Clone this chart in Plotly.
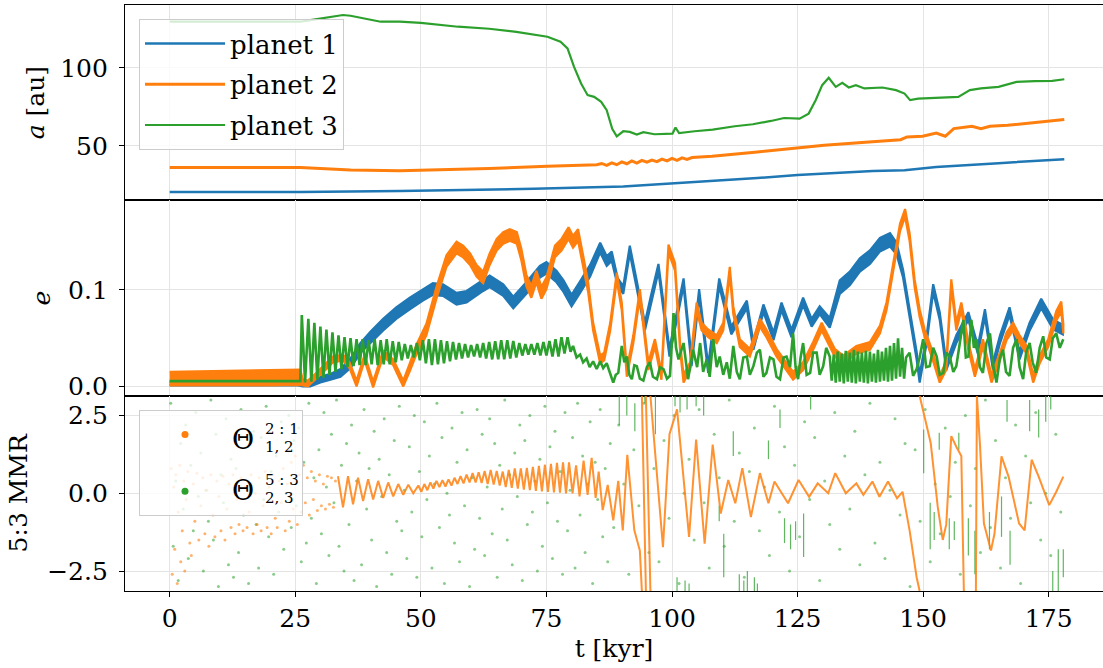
import plotly.graph_objects as go
from plotly.subplots import make_subplots

BLUE = '#1f77b4'
ORANGE = '#ff7f0e'
GREEN = '#2ca02c'
FONT = 'DejaVu Serif'

# ---------------- semi-major axis a [au] : (t [kyr], a) ----------------
A1 = [(0, 20.5), (26, 20.5), (45.8, 21.2), (60, 21.8), (72.5, 22.6), (90.3, 24.1), (100, 25.9),
      (110, 28.0), (117, 29.5), (125, 31.4), (134.8, 33.3), (140, 34.0), (146.3, 34.4),
      (152.6, 36.5), (165, 39.0), (178.1, 41.5)]
A2 = [(0, 36.2), (26, 36.2), (30, 35.5), (36, 34.6), (45.8, 34.2), (55, 34.8), (63.6, 35.5),
      (75.2, 37.0), (80, 37.5), (85, 38.0), (86, 38.8), (87, 37.6), (88, 39.2), (89, 38.0),
      (90, 39.8), (91, 38.6), (92, 40.4), (93, 39.0), (94, 40.8), (95, 39.6), (96, 41.0),
      (97, 40.0), (98, 41.6), (99, 40.4), (100, 42.0), (101, 40.8), (102, 42.4), (103, 41.4),
      (104, 42.6), (108, 43.4), (117, 46.2), (125, 48.7), (130.3, 50.4), (139.2, 52.6),
      (145.5, 54.0), (146.8, 55.8), (149.9, 56.2), (152.6, 58.3), (154.4, 56.2), (156.1, 61.1),
      (159.7, 62.6), (161.5, 61.1), (163.3, 62.6), (166.8, 63.2), (170.4, 64.3), (173.9, 65.4),
      (178.1, 66.9)]
A3 = [(0, 129.5), (10, 129.5), (20, 129.5), (26, 129.5), (28, 130.5), (30, 131.5), (32, 132.8),
      (34.5, 133.8), (36, 133.3), (38, 132.0), (40, 130.5), (42, 129.5), (45.8, 129.5),
      (50, 128.8), (57.4, 126.3), (63.6, 125.0), (69, 123.0), (75.2, 119.9), (77.8, 116.7),
      (79.2, 112.4), (80.5, 100.6), (81.9, 90.0), (83.2, 82.5), (84.5, 81.4), (85.9, 78.2),
      (87.0, 72.9), (88.1, 61.0), (89.0, 56.2), (90.3, 59.4), (91.6, 59.0), (93.0, 57.3),
      (94.3, 58.8), (96.5, 57.5), (100.1, 57.9), (100.7, 61.8), (101.4, 58.3), (104.5, 59.4),
      (108.1, 60.5), (112.5, 62.6), (116.1, 63.9), (119.7, 66.0), (122.3, 67.9), (125.4, 67.5),
      (127.2, 70.7), (128.6, 79.3), (129.9, 88.9), (131.2, 93.6), (132.6, 87.8), (133.9, 90.4),
      (135.2, 87.4), (136.6, 88.9), (138.3, 86.8), (141.9, 87.4), (144.6, 85.7), (146.3, 83.5),
      (147.4, 79.3), (149.0, 80.3), (152.6, 80.8), (157.0, 81.4), (159.3, 85.7), (161.5, 86.8),
      (165.0, 87.8), (168.6, 91.0), (172.2, 91.5), (175.7, 91.7), (178.1, 92.7)]

# ---------------- eccentricity e : (t, centre, half-width of fast oscillation) ----------------
E1 = [(0, 0.003, 0.002), (10, 0.003, 0.002), (20, 0.003, 0.002), (25.5, 0.003, 0.002),
      (26.5, 0.002, 0.002), (28, 0.003, 0.003), (30, 0.007, 0.003), (32, 0.010, 0.003),
      (34, 0.014, 0.004), (36, 0.024, 0.005), (38, 0.040, 0.005), (40, 0.051, 0.006),
      (42.5, 0.064, 0.006), (45.1, 0.076, 0.006), (47.8, 0.086, 0.006), (50.4, 0.095, 0.006),
      (52.4, 0.101, 0.006), (54.4, 0.100, 0.006), (57.1, 0.091, 0.006), (59.1, 0.093, 0.006),
      (62.4, 0.105, 0.006), (63.7, 0.109, 0.006), (66.4, 0.100, 0.006), (68.4, 0.087, 0.006),
      (71.0, 0.102, 0.006), (73.7, 0.119, 0.006), (75.0, 0.123, 0.006), (77.0, 0.114, 0.006),
      (78.4, 0.104, 0.006), (80.0, 0.089, 0.006), (81.7, 0.103, 0.006), (83.7, 0.120, 0.006),
      (85.7, 0.144, 0.005), (87.0, 0.130, 0.005), (88.0, 0.135, 0.005), (89.2, 0.108, 0.004),
      (90.3, 0.100, 0.004), (91.6, 0.142, 0.004), (93.0, 0.105, 0.004), (94.6, 0.062, 0.004),
      (95.8, 0.090, 0.004), (97.3, 0.123, 0.004), (99.5, 0.035, 0.004), (102.3, 0.108, 0.004),
      (103.9, 0.025, 0.004), (105.4, 0.097, 0.004), (107.2, 0.018, 0.004), (109.4, 0.108, 0.004),
      (111.8, 0.058, 0.004), (114.9, 0.085, 0.004), (116.2, 0.042, 0.004), (118.2, 0.081, 0.004),
      (120.2, 0.052, 0.004), (121.8, 0.083, 0.004), (123.8, 0.055, 0.004), (126.1, 0.088, 0.004),
      (127.8, 0.066, 0.004), (129.4, 0.079, 0.004), (131.4, 0.066, 0.005), (133.4, 0.103, 0.007),
      (135.4, 0.112, 0.007), (137.4, 0.126, 0.007), (139.4, 0.134, 0.007), (141.4, 0.147, 0.007),
      (143.4, 0.152, 0.007), (144.7, 0.143, 0.006), (146.0, 0.117, 0.004), (147.3, 0.076, 0.004),
      (148.7, 0.032, 0.004), (149.3, 0.008, 0.004), (150.7, 0.049, 0.004), (152.0, 0.102, 0.004),
      (153.3, 0.073, 0.004), (154.6, 0.021, 0.004), (156.6, 0.049, 0.004), (159.0, 0.073, 0.004),
      (160.9, 0.038, 0.004), (162.3, 0.076, 0.004), (163.9, 0.021, 0.004), (165.3, 0.049, 0.004),
      (167.2, 0.078, 0.004), (169.2, 0.032, 0.004), (171.2, 0.062, 0.004), (173.5, 0.086, 0.005),
      (175.9, 0.064, 0.005), (177.8, 0.059, 0.005)]
E2 = [(0, 0.008, 0.007), (10, 0.0085, 0.0075), (20, 0.009, 0.008), (26, 0.0095, 0.008),
      (26.5, 0.004, 0.003), (27.5, 0.003, 0.003), (29, 0.010, 0.003), (31, 0.020, 0.003),
      (32.5, 0.028, 0.003), (34.5, 0.030, 0.003), (35.8, 0.022, 0.003), (37.2, 0.003, 0.003),
      (38.8, 0.030, 0.003), (40.5, 0.002, 0.003), (42.5, 0.034, 0.003), (44.5, 0.025, 0.003),
      (46.5, 0.003, 0.003), (47.8, 0.020, 0.004), (49.1, 0.038, 0.005), (51.1, 0.059, 0.006),
      (53.1, 0.097, 0.006), (55.1, 0.130, 0.006), (57.1, 0.144, 0.006), (58.4, 0.140, 0.006),
      (59.8, 0.132, 0.006), (61.1, 0.120, 0.006), (62.4, 0.113, 0.006), (63.7, 0.132, 0.006),
      (65.1, 0.147, 0.006), (66.4, 0.154, 0.006), (67.7, 0.157, 0.006), (69.1, 0.154, 0.006),
      (70.0, 0.137, 0.006), (71.0, 0.110, 0.006), (72.0, 0.098, 0.006), (73.0, 0.114, 0.006),
      (74.0, 0.097, 0.006), (75.0, 0.107, 0.006), (76.7, 0.140, 0.006), (78.0, 0.147, 0.006),
      (79.4, 0.159, 0.006), (80.3, 0.150, 0.006), (81.3, 0.157, 0.006), (82.3, 0.131, 0.005),
      (83.3, 0.103, 0.005), (84.3, 0.062, 0.004), (85.7, 0.028, 0.004), (86.5, 0.031, 0.004),
      (87.7, 0.062, 0.004), (89.0, 0.114, 0.004), (90.0, 0.083, 0.004), (91.0, 0.014, 0.004),
      (92.3, 0.049, 0.004), (93.6, 0.097, 0.004), (95.3, 0.021, 0.004), (96.6, 0.045, 0.004),
      (97.9, 0.011, 0.004), (99.3, 0.143, 0.004), (100.6, 0.124, 0.004), (101.6, 0.042, 0.004),
      (102.3, 0.008, 0.004), (103.6, 0.021, 0.004), (104.9, 0.083, 0.004), (105.9, 0.062, 0.004),
      (107.2, 0.055, 0.004), (108.9, 0.049, 0.004), (110.2, 0.062, 0.004), (111.5, 0.120, 0.004),
      (112.2, 0.079, 0.004), (113.5, 0.045, 0.004), (115.5, 0.035, 0.004), (117.5, 0.066, 0.004),
      (118.8, 0.055, 0.004), (120.8, 0.035, 0.004), (122.1, 0.025, 0.004), (124.1, 0.011, 0.004),
      (126.1, 0.021, 0.004), (128.1, 0.042, 0.004), (129.8, 0.062, 0.004), (131.1, 0.049, 0.004),
      (132.4, 0.035, 0.004), (134.1, 0.028, 0.004), (136.7, 0.038, 0.004), (139.4, 0.042, 0.004),
      (141.4, 0.059, 0.004), (142.7, 0.083, 0.004), (144.0, 0.124, 0.004), (145.4, 0.165, 0.004),
      (146.4, 0.180, 0.004), (147.3, 0.155, 0.004), (148.3, 0.107, 0.004), (149.3, 0.076, 0.004),
      (150.3, 0.055, 0.004), (151.7, 0.035, 0.004), (153.3, 0.008, 0.004), (154.6, 0.021, 0.004),
      (155.6, 0.107, 0.004), (156.6, 0.062, 0.004), (157.6, 0.083, 0.004), (159.0, 0.042, 0.004),
      (160.3, 0.014, 0.004), (161.9, 0.045, 0.004), (163.6, 0.008, 0.004), (165.3, 0.031, 0.004),
      (166.6, 0.052, 0.004), (167.9, 0.062, 0.004), (169.2, 0.049, 0.004), (170.6, 0.038, 0.004),
      (171.9, 0.008, 0.004), (173.2, 0.028, 0.004), (174.9, 0.045, 0.004), (176.5, 0.073, 0.005),
      (177.5, 0.083, 0.005), (177.9, 0.060, 0.005)]
E3 = [(0, 0.0055), (26.0, 0.0055), (26.3, 0.074), (26.95, 0.004), (27.6, 0.070), (28.2, 0.005),
      (28.8, 0.066), (29.4, 0.007), (30.0, 0.062), (30.6, 0.009), (31.2, 0.059), (31.8, 0.012),
      (32.4, 0.056), (33.0, 0.015), (33.6, 0.053), (34.2, 0.018), (34.8, 0.051), (35.4, 0.020),
      (36.0, 0.050), (36.6, 0.021), (37.2, 0.049), (37.8, 0.022), (38.4, 0.049), (39.0, 0.022),
      (39.6, 0.048), (40.2, 0.023), (40.8, 0.049), (41.4, 0.022), (42.0, 0.048), (42.6, 0.023),
      (43.2, 0.049), (43.8, 0.023), (44.4, 0.047), (45.0, 0.025), (45.6, 0.046), (46.2, 0.027),
      (46.8, 0.044), (47.4, 0.029), (48.0, 0.043), (48.6, 0.030), (49.2, 0.045), (49.8, 0.027),
      (50.4, 0.048), (51.0, 0.024), (51.6, 0.049), (52.2, 0.022), (52.8, 0.049), (53.4, 0.023),
      (54.0, 0.048), (54.6, 0.024), (55.2, 0.047), (55.8, 0.026), (56.4, 0.046), (57.0, 0.028),
      (57.6, 0.045), (58.2, 0.029), (58.8, 0.044), (59.4, 0.030), (60.0, 0.043), (60.6, 0.031),
      (61.2, 0.044), (61.8, 0.030), (62.4, 0.045), (63.0, 0.029), (63.6, 0.046), (64.2, 0.028),
      (64.8, 0.047), (65.4, 0.028), (66.0, 0.048), (66.6, 0.028), (67.2, 0.048), (67.8, 0.029),
      (68.4, 0.047), (69.0, 0.030), (69.6, 0.045), (70.2, 0.032), (70.8, 0.044), (71.4, 0.033),
      (72.0, 0.044), (72.6, 0.033), (73.2, 0.045), (73.8, 0.032), (74.4, 0.046), (75.0, 0.032),
      (75.6, 0.047), (76.2, 0.031), (76.8, 0.049), (77.4, 0.031), (78.0, 0.051), (78.6, 0.034),
      (79.2, 0.051), (79.8, 0.036), (80.3, 0.042), (81.0, 0.030), (81.7, 0.033), (82.3, 0.025),
      (83.0, 0.029), (83.6, 0.020), (84.3, 0.026), (85.0, 0.018), (85.7, 0.026), (86.3, 0.019),
      (87.0, 0.024), (87.6, 0.015), (88.3, 0.004), (88.8, 0.012), (89.3, 0.014), (90.0, 0.042),
      (90.5, 0.025), (91.0, 0.031), (91.5, 0.012), (92.0, 0.0075), (92.5, 0.022), (93.0, 0.021),
      (93.6, 0.008), (94.3, 0.006), (95.0, 0.020), (95.6, 0.025), (96.2, 0.010), (97.0, 0.0075),
      (97.6, 0.020), (98.3, 0.018), (99.0, 0.008), (99.6, 0.011), (100.3, 0.076), (100.8, 0.040),
      (101.3, 0.028), (102.3, 0.045), (103.2, 0.0075), (104.2, 0.038), (105.0, 0.020),
      (105.6, 0.045), (106.2, 0.015), (106.9, 0.028), (107.5, 0.010), (108.2, 0.049),
      (108.9, 0.020), (109.5, 0.031), (110.2, 0.012), (110.9, 0.025), (111.5, 0.008),
      (112.2, 0.042), (112.9, 0.015), (113.5, 0.0075), (114.2, 0.030), (114.9, 0.031),
      (115.5, 0.012), (116.2, 0.021), (116.9, 0.035), (117.5, 0.038), (118.2, 0.010),
      (118.8, 0.014), (119.5, 0.030), (120.2, 0.028), (120.8, 0.010), (121.5, 0.0075),
      (122.2, 0.030), (122.8, 0.031), (123.5, 0.020), (124.1, 0.055), (124.6, 0.020),
      (125.1, 0.0075), (125.6, 0.030), (126.1, 0.045), (126.8, 0.012), (127.5, 0.014),
      (128.1, 0.035), (128.8, 0.035), (129.4, 0.012), (130.1, 0.021), (130.7, 0.040),
      (131.4, 0.031), (131.8, 0.006), (132.2, 0.033), (132.6, 0.004), (133.0, 0.036),
      (133.4, 0.005), (133.8, 0.034), (134.2, 0.003), (134.6, 0.037), (135.0, 0.005),
      (135.4, 0.035), (135.8, 0.004), (136.2, 0.038), (136.6, 0.003), (137.0, 0.036),
      (137.4, 0.005), (137.8, 0.035), (138.2, 0.004), (138.6, 0.037), (139.0, 0.003),
      (139.4, 0.036), (139.8, 0.005), (140.2, 0.034), (140.6, 0.004), (141.0, 0.038),
      (141.4, 0.005), (141.8, 0.036), (142.2, 0.006), (142.6, 0.040), (143.0, 0.005),
      (143.4, 0.042), (143.8, 0.006), (144.2, 0.045), (144.6, 0.008), (145.0, 0.050),
      (145.4, 0.010), (145.8, 0.040), (146.2, 0.008), (146.6, 0.030), (147.3, 0.035),
      (148.0, 0.011), (148.7, 0.018), (149.3, 0.030), (150.0, 0.049), (150.6, 0.020),
      (151.3, 0.021), (152.0, 0.040), (152.7, 0.031), (153.3, 0.012), (154.0, 0.014),
      (154.6, 0.035), (155.3, 0.031), (156.0, 0.015), (156.6, 0.021), (157.3, 0.045),
      (158.0, 0.069), (158.5, 0.030), (159.0, 0.031), (159.6, 0.069), (160.1, 0.040),
      (160.6, 0.049), (161.3, 0.020), (161.9, 0.014), (162.6, 0.045), (163.3, 0.055),
      (164.0, 0.020), (164.6, 0.004), (165.3, 0.030), (165.9, 0.038), (166.5, 0.015),
      (167.2, 0.011), (167.9, 0.040), (168.6, 0.049), (169.2, 0.020), (169.9, 0.0075),
      (170.5, 0.035), (171.2, 0.045), (171.8, 0.025), (172.5, 0.014), (173.2, 0.040),
      (173.9, 0.052), (174.5, 0.030), (175.2, 0.028), (175.8, 0.050), (176.5, 0.055),
      (177.2, 0.040), (177.9, 0.049)]

# ---------------- resonant angles ----------------
THETA12_CLOUD = [(0.3, 0.8), (0.5, -2.6), (0.8, 0.2), (1.0, -1.8), (1.2, 0.6), (1.5, -2.9), (1.7, -0.6),
                 (2.0, 0.9), (2.2, -2.2), (2.5, -1.2), (2.8, 0.4), (3.0, -2.5), (3.3, -0.2), (3.6, 0.7),
                 (4.0, -1.6), (4.3, -2.0), (4.7, 0.3), (5.0, -0.9), (5.4, 0.65), (5.8, -1.5), (6.2, -0.4),
                 (6.6, 0.5), (7.0, -1.3), (7.4, 0.1), (7.8, -1.7), (8.2, 0.6), (8.6, -0.7), (9.0, -1.4),
                 (9.4, 0.4), (9.8, -0.1), (10.2, -1.2), (10.6, 0.55), (11.0, -1.5), (11.4, -0.5),
                 (11.8, 0.3), (12.2, -1.1), (12.6, 0.6), (13.0, -1.3), (13.4, -0.2), (13.8, -1.0),
                 (14.2, 0.5), (14.6, -1.2), (15.0, 0.2), (15.4, -1.1), (15.8, -0.6), (16.2, 0.6),
                 (16.6, -1.3), (17.0, 0.0), (17.4, -1.0), (17.8, 0.5), (18.2, -1.2), (18.6, -0.4),
                 (19.0, 0.7), (19.4, -1.1), (19.8, 0.2), (20.2, -1.3), (20.6, 0.6), (21.0, -0.8),
                 (21.4, -1.1), (21.8, 0.4), (22.2, -0.3), (22.6, 0.8), (23.0, -1.2), (23.4, 0.3),
                 (23.8, -0.9), (24.2, 1.0), (24.6, -0.5), (25.0, 1.2), (25.4, -1.0), (25.8, 0.6),
                 (26.2, -0.6), (26.6, 0.9), (27.0, -0.3), (27.4, 0.5), (27.8, -0.7), (28.2, 0.7),
                 (28.6, -0.2), (29.0, 0.4), (29.4, -0.55), (29.8, 0.6), (30.2, -0.4), (30.6, 0.3),
                 (31.0, -0.5), (31.4, 0.55), (31.8, -0.35), (32.2, 0.5), (32.6, -0.45), (33.0, 0.4)]
THETA12 = [(33.5, 0.55), (34.5, -0.45), (35.5, 0.55), (36.5, -0.35), (37.5, 0.5), (38.5, -0.25),
           (39.5, 0.45), (40.5, -0.2), (41.5, 0.4), (42.5, -0.15), (43.5, 0.35), (44.5, -0.1),
           (45.5, 0.3), (46.5, -0.05), (47.5, 0.28), (48.5, 0.0), (49.5, 0.25), (50.1, 0.05),
           (50.7, 0.3), (51.3, 0.1), (51.9, 0.35), (52.5, 0.15), (53.1, 0.4), (53.7, 0.2),
           (54.3, 0.42), (54.9, 0.22), (55.5, 0.45), (56.1, 0.25), (56.7, 0.5), (57.3, 0.3),
           (57.9, 0.55), (58.5, 0.32), (59.1, 0.6), (59.7, 0.35), (60.3, 0.65), (60.9, 0.35),
           (61.5, 0.68), (62.1, 0.33), (62.7, 0.72), (63.3, 0.3), (63.9, 0.75), (64.5, 0.28),
           (65.1, 0.72), (65.7, 0.25), (66.3, 0.7), (66.9, 0.2), (67.5, 0.75), (68.1, 0.18),
           (68.7, 0.8), (69.3, 0.15), (69.9, 0.8), (70.5, 0.12), (71.1, 0.82), (71.7, 0.1),
           (72.3, 0.85), (72.9, 0.08), (73.5, 0.88), (74.1, 0.06), (74.7, 0.92), (75.3, 0.05),
           (75.9, 0.95), (76.5, 0.03), (77.1, 0.98), (77.7, 0.02), (78.3, 1.0), (78.9, 0.0),
           (79.5, 1.0), (80.2, 0.0), (80.9, 0.9), (81.6, -0.1), (82.4, 1.05), (83.2, -0.05),
           (84.0, 1.14), (84.8, -0.15), (85.4, 0.7), (86.2, -0.54), (87.2, 0.27), (88.3, -0.87),
           (89.3, 0.4), (90.2, -1.19), (91.1, 1.24), (92.5, -1.19), (93.6, -1.84), (94.0, -3.14),
           (94.0, None), (94.0, 3.14), (94.8, -3.14), (94.8, None), (94.8, 3.14), (95.7, -3.14),
           (95.7, None), (95.7, 3.14), (98.2, -1.73), (99.5, 1.9), (101.0, 2.7), (103.4, -1.4),
           (104.8, 1.73), (106.5, -1.62), (108.1, 1.57), (109.7, -0.65), (111.2, 0.43),
           (112.6, -0.32), (114.0, 0.81), (115.7, -0.76), (117.5, 0.65), (119.2, -0.32),
           (120.4, 0.38), (123.1, -0.32), (125.2, 0.43), (127.3, -0.11), (129.0, 0.32),
           (131.1, 0.0), (132.5, 0.65), (134.6, 0.0), (136.7, 0.32), (138.1, -0.05), (139.9, 0.38),
           (141.3, -0.11), (143.0, 0.38), (144.8, -0.16), (145.9, 0.05), (147.3, -1.19),
           (148.7, -2.7), (149.3, -3.14), (149.3, None), (149.3, 3.14), (150.4, 2.38),
           (151.5, 1.62), (152.9, -0.43), (153.9, -1.5), (154.6, -1.0), (155.6, 1.84),
           (156.6, 1.5), (157.6, 1.2), (158.1, -3.14), (158.1, None), (160.5, -3.14),
           (160.7, 3.14), (161.3, 1.6), (162.1, -0.97), (163.5, -1.84), (164.2, -1.3),
           (165.6, 1.19), (167.0, 0.54), (169.1, -0.97), (170.2, -1.19), (171.6, 1.08),
           (173.0, 0.54), (175.1, -0.38), (176.5, 0.05), (177.9, 0.54)]
THETA23_DOTS = [(0.2, 2.9), (0.7, -1.7), (1.2, 0.4), (1.7, -2.8), (2.2, 1.6), (2.7, -0.5), (3.2, 2.2),
                (3.7, -2.1), (4.2, 0.9), (4.7, -1.2), (5.2, 2.6), (5.7, -0.1), (6.2, 1.3), (6.7, -2.5),
                (7.2, 0.1), (7.7, -0.9), (8.2, 3.0), (8.7, -1.5), (9.2, 1.9), (9.7, -3.0), (10.2, 0.6),
                (10.7, -0.3), (11.2, 2.4), (11.7, -2.3), (12.2, 1.1), (12.7, -2.7), (13.2, 0.8),
                (13.7, -1.9), (14.2, 2.7), (14.7, -0.7), (15.2, 1.5), (15.7, -2.9), (16.2, 0.3),
                (16.7, 2.0), (17.2, -1.0), (17.7, -2.4), (18.2, 1.8), (18.7, -0.2), (19.2, 2.8),
                (19.7, -1.4), (20.2, 0.7), (20.7, -2.6), (21.2, 1.2), (21.7, -0.6), (22.2, 2.3),
                (22.7, -1.8), (23.2, 0.0), (23.7, 2.5), (24.2, -1.1), (24.7, 1.7), (25.2, -0.4),
                (25.7, 2.1), (26.2, -2.2), (26.7, 1.0), (27.2, -1.6), (27.7, 2.9), (28.2, -0.8),
                (28.7, 0.5), (29.2, -2.9), (29.7, 1.4), (30.2, -1.3), (30.7, 2.6), (31.2, 0.2),
                (31.7, -2.0), (32.2, 1.9), (32.7, -0.3), (33.2, 3.0), (33.7, -1.7), (34.2, 0.9),
                (34.7, -2.5), (35.2, 1.6), (35.7, -1.0), (36.2, 2.2), (36.7, -2.8), (37.2, 0.4),
                (37.7, 1.3), (38.2, -2.3), (38.7, 2.7), (39.2, -0.5), (39.7, 0.8), (40.2, -1.5),
                (40.7, 2.0), (41.2, -3.0), (41.7, 1.1), (42.2, -0.1), (42.7, 2.4), (43.2, -1.9),
                (43.7, 0.6), (44.2, -2.6), (44.7, 1.7), (45.2, -0.9), (45.7, 2.8), (46.2, -1.2),
                (46.7, 0.1), (47.2, -2.1), (47.7, 1.5), (48.2, -0.6), (48.7, 2.5), (49.2, -2.7),
                (49.7, 0.7), (50.2, -1.4), (50.7, 2.3), (51.2, -0.2), (51.7, 1.2), (52.2, -2.4),
                (52.7, 0.3), (53.2, 2.9), (53.7, -1.1), (54.2, 1.8), (54.7, -2.9), (55.2, 0.0),
                (55.7, -0.7), (56.2, 2.1), (56.7, -1.6), (57.2, 1.0), (57.7, -2.2), (58.2, 2.6),
                (58.7, -0.4), (59.2, 1.4), (59.7, -3.0), (60.2, 0.5), (60.7, -1.8), (61.2, 2.7),
                (61.7, -0.8), (62.2, 1.9), (62.7, -2.0), (63.2, 0.2), (63.7, 2.4), (64.2, -1.3),
                (64.7, 1.6), (65.2, -2.7), (65.7, 0.9), (66.2, -0.5), (66.7, 3.0), (67.2, -1.5),
                (67.7, 0.6), (68.2, -2.3), (68.7, 1.3), (69.2, -0.1), (69.7, 2.2), (70.2, -2.8),
                (70.7, 1.7), (71.2, -1.0), (71.7, 2.5), (72.2, -0.6), (72.7, 0.4), (73.2, -2.5),
                (73.7, 1.1), (74.2, -1.7), (74.7, 2.8), (75.2, -0.3), (75.7, 1.5), (76.2, -2.1),
                (76.7, 2.0), (77.2, -0.9), (77.7, 0.7), (78.2, -2.6), (78.7, 2.6), (79.2, -1.2),
                (79.7, 0.1), (80.2, 1.8), (80.7, -2.4), (81.2, 2.9), (81.7, -0.7), (82.2, 1.2),
                (82.7, -1.9), (83.2, 0.3), (83.7, 2.3), (84.2, -2.9), (84.7, 1.0), (85.2, -0.2),
                (85.7, 2.7), (86.2, -1.4), (86.7, 0.8), (87.2, -2.2), (87.7, 1.6),
                (88.4, -1.1), (89.4, 2.2), (90.4, 0.3), (91.4, -2.6), (92.4, 1.4), (93.4, -0.4),
                (94.4, 2.9), (95.4, -1.9), (96.4, 0.8), (97.4, -2.2), (98.4, 1.7), (99.4, -0.8),
                (100.4, 2.5), (101.4, -2.9), (102.4, 0.0), (103.4, 1.1), (104.4, -1.5), (105.4, 2.7),
                (106.4, -0.3), (107.4, -2.4), (108.4, 1.9), (109.4, 0.5), (110.4, -1.7), (111.4, 3.0),
                (112.4, -0.9), (113.4, 1.3), (114.4, -2.7), (115.4, 0.7), (116.4, 2.1), (117.4, -1.2),
                (118.4, 0.2), (119.4, -2.0), (120.4, 2.8), (121.4, -0.6), (122.4, 1.5), (123.4, -2.5),
                (124.4, 0.9), (125.4, -1.4), (126.4, 2.3), (127.4, -0.2), (128.4, 1.8), (129.4, -2.8),
                (130.4, 0.4), (131.4, -1.0), (132.4, 2.6), (133.4, -1.8), (134.4, 1.2), (135.4, -0.5),
                (136.4, 2.0), (137.4, -2.3), (138.4, 0.6), (139.4, 2.9), (140.4, -1.6), (141.4, 1.0),
                (142.4, -2.1), (143.4, 0.1), (144.4, 2.4), (145.4, -0.7), (146.4, 1.6), (147.4, -3.0),
                (148.4, 1.4), (149.4, -0.9), (150.4, 2.7), (151.4, -2.2), (152.4, 0.3), (153.4, -1.3),
                (154.4, 2.1), (155.4, -0.1), (156.4, 1.0), (157.4, -2.6), (158.4, 2.5), (159.4, -0.4),
                (160.4, 0.8), (161.4, -1.9), (162.4, 3.0), (163.4, -1.1), (164.4, 1.7), (165.4, -2.4),
                (166.4, 0.5), (167.4, -0.8), (168.4, 2.2), (169.4, -2.9), (170.4, 1.2), (171.4, -0.3),
                (172.4, 2.6), (173.4, -1.5), (174.4, 0.0), (175.4, -2.0), (176.4, 1.9), (177.4, -0.6)]
THETA23_STREAKS = [(89.5, 2.2, 3.14), (91.0, 2.5, 3.14), (92.6, 2.0, 2.9), (94.6, 2.9, 3.14),
                   (96.7, 1.9, 3.14), (100.6, 2.8, 3.14), (101.6, 2.6, 3.14), (103.0, 2.7, 3.14),
                   (104.8, 2.8, 3.14), (106.3, 2.5, 3.14), (101.0, -2.7, -3.14), (102.6, -2.8, -3.14),
                   (103.4, -2.9, -3.14), (109.4, -0.4, -0.9), (110.3, -1.3, -2.7), (112.2, 1.2, 2.0),
                   (113.4, -2.6, -3.14), (114.3, -2.8, -3.14), (115.0, -2.5, -3.14),
                   (116.4, -2.7, -3.14), (117.0, -2.9, -3.14), (119.2, 1.1, 1.7), (121.5, 2.1, 2.7),
                   (122.4, -0.8, -1.6), (123.6, -1.0, -1.8), (124.6, -0.9, -1.5), (126.2, -0.65, -2.05),
                   (127.6, 2.7, 3.14), (150.1, 0.65, 2.05), (151.4, -0.3, -1.8), (152.2, -0.6, -1.5),
                   (153.2, 1.4, 1.95), (155.2, -0.8, -1.8), (156.2, -0.9, -1.5), (157.1, 1.4, 1.95),
                   (159.0, -0.8, -2.0), (160.3, -1.2, -2.6), (163.2, -0.6, -1.8), (165.6, -0.1, -1.4),
                   (166.7, 2.3, 3.0), (167.3, -1.2, -2.3), (171.2, 2.0, 3.0), (173.0, 1.8, 2.7),
                   (174.4, 2.3, 3.14), (175.4, 2.7, 3.14), (175.8, -2.5, -3.14), (176.9, -1.8, -3.14),
                   (177.9, -1.8, -2.7)]

X_TICKS = [0, 25, 50, 75, 100, 125, 150, 175]
A_TICKS = [50, 100]
E_TICKS = [0.0, 0.1]
TH_TICKS = [-2.5, 0.0, 2.5]

PLANET_NAMES = ['planet 1', 'planet 2', 'planet 3']
NB = '\u00a0'


def col(rows, i):
    return [r[i] for r in rows]


def band(rows):
    t = col(rows, 0)
    up = [r[1] + r[2] for r in rows]
    lo = [r[1] - r[2] for r in rows]
    return t + t[::-1], up + lo[::-1]


fig = make_subplots(rows=3, cols=1, shared_xaxes=True, vertical_spacing=0)

# --- panel 1: a ---
for rows, c, w, nm in [(A1, BLUE, 2.5, PLANET_NAMES[0]), (A2, ORANGE, 3, PLANET_NAMES[1]),
                       (A3, GREEN, 2.2, PLANET_NAMES[2])]:
    fig.add_trace(go.Scatter(x=col(rows, 0), y=col(rows, 1), mode='lines',
                             line=dict(color=c, width=w), name=nm, legend='legend',
                             legendgroup=nm, showlegend=True, hoverinfo='skip'), row=1, col=1)

# --- panel 2: e ---
for rows, c in [(E1, BLUE), (E2, ORANGE)]:
    bx, by = band(rows)
    fig.add_trace(go.Scatter(x=bx, y=by, mode='lines', fill='toself', fillcolor=c,
                             line=dict(color=c, width=2.2), showlegend=False, hoverinfo='skip'),
                  row=2, col=1)
fig.add_trace(go.Scatter(x=col(E3, 0), y=col(E3, 1), mode='lines', line=dict(color=GREEN, width=2.6),
                         showlegend=False, hoverinfo='skip'), row=2, col=1)

# --- panel 3: resonant angles ---
fig.add_trace(go.Scatter(x=col(THETA23_DOTS, 0), y=col(THETA23_DOTS, 1), mode='markers',
                         marker=dict(color=GREEN, size=3, opacity=0.55, line=dict(width=0)),
                         showlegend=False, hoverinfo='skip'), row=3, col=1)
sx, sy = [], []
for t, a, b in THETA23_STREAKS:
    sx += [t, t, None]
    sy += [a, b, None]
fig.add_trace(go.Scatter(x=sx, y=sy, mode='lines', line=dict(color=GREEN, width=1.2),
                         opacity=0.75, showlegend=False, hoverinfo='skip'), row=3, col=1)
fig.add_trace(go.Scatter(x=col(THETA12_CLOUD, 0), y=col(THETA12_CLOUD, 1), mode='markers',
                         marker=dict(color=ORANGE, size=3, opacity=0.6, line=dict(width=0)),
                         showlegend=False, hoverinfo='skip'), row=3, col=1)
fig.add_trace(go.Scatter(x=col(THETA12, 0), y=col(THETA12, 1), mode='lines',
                         line=dict(color=ORANGE, width=2), opacity=0.85, connectgaps=False,
                         showlegend=False, hoverinfo='skip'), row=3, col=1)
# legend entries for the angle panel
for c, g in [(ORANGE, 'th12'), (GREEN, 'th23')]:
    fig.add_trace(go.Scatter(x=[None], y=[None], mode='markers', marker=dict(color=c, size=7),
                             name=NB * 8, legend='legend2', legendgroup=g, showlegend=True),
                  row=3, col=1)

W, H = 1103, 668
ML, MR, MT, MB = 125, 0, 5, 77
PW, PH = W - ML - MR, H - MT - MB


def px(x):
    return (x - ML) / PW


def py(y):
    return (H - MB - y) / PH


tickfont = dict(family=FONT, size=25, color='black')
axis_common = dict(showgrid=True, gridcolor='#e4e4e4', gridwidth=1, zeroline=False,
                   showline=True, linecolor='black', linewidth=1.3, ticks='outside',
                   ticklen=5, tickwidth=1.3, tickcolor='black', tickfont=tickfont)

fig.update_xaxes(range=[-8.9, -8.9 + PW / 5.023], tickvals=X_TICKS, mirror=True, **axis_common)
fig.update_xaxes(showticklabels=False, row=1, col=1)
fig.update_xaxes(showticklabels=False, row=2, col=1)
fig.update_xaxes(ticklabelstandoff=0,
                 title=dict(text='t [kyr]', font=dict(family=FONT, size=25, color='black'), standoff=7),
                 row=3, col=1)

fig.update_yaxes(mirror=False, ticklabelstandoff=6, **axis_common)
fig.update_yaxes(range=[15.2, 140.2], tickvals=A_TICKS,
                 title=dict(text='<i>a</i> [au]', font=dict(family=FONT, size=25, color='black'), standoff=8),
                 domain=[2 / 3, 1], row=1, col=1)
fig.update_yaxes(range=[-0.0096, 0.193], tickvals=E_TICKS, tickformat='.1f',
                 title=dict(text='<i>e</i>', font=dict(family=FONT, size=25, color='black'), standoff=10),
                 domain=[1 / 3, 2 / 3], row=2, col=1)
fig.update_yaxes(range=[-3.1416, 3.1416], tickvals=TH_TICKS, tickformat='.1f',
                 title=dict(text='5:3 MMR', font=dict(family=FONT, size=25, color='black'), standoff=12),
                 domain=[0, 1 / 3], row=3, col=1)

leg_common = dict(xanchor='left', yanchor='top', bgcolor='rgba(255,255,255,0.8)',
                  bordercolor='#cccccc', borderwidth=1, font=dict(family=FONT, size=26, color='black'),
                  itemwidth=80, traceorder='grouped')
fig.update_layout(
    width=W, height=H, margin=dict(l=ML, r=MR, t=MT, b=MB),
    paper_bgcolor='white', plot_bgcolor='white',
    font=dict(family=FONT, color='black'),
    legend=dict(x=px(139), y=py(19), tracegroupgap=4, **leg_common),
    legend2=dict(x=px(139), y=py(410), tracegroupgap=20, **leg_common),
)

ann = []
for yth, ysup, ysub, sup, sub in [(439, 429, 447, '2 : 1', '1, 2'), (490, 480, 498, '5 : 3', '2, 3')]:
    ann.append(dict(x=px(230), y=py(yth), xref='paper', yref='paper', text='Θ', showarrow=False,
                    xanchor='left', yanchor='middle', font=dict(family=FONT, size=27, color='black')))
    ann.append(dict(x=px(263), y=py(ysup), xref='paper', yref='paper', text=sup, showarrow=False,
                    xanchor='left', yanchor='middle', font=dict(family=FONT, size=15, color='black')))
    ann.append(dict(x=px(263), y=py(ysub), xref='paper', yref='paper', text=sub, showarrow=False,
                    xanchor='left', yanchor='middle', font=dict(family=FONT, size=15, color='black')))
fig.update_layout(annotations=ann)

fig.write_html('out.html')
